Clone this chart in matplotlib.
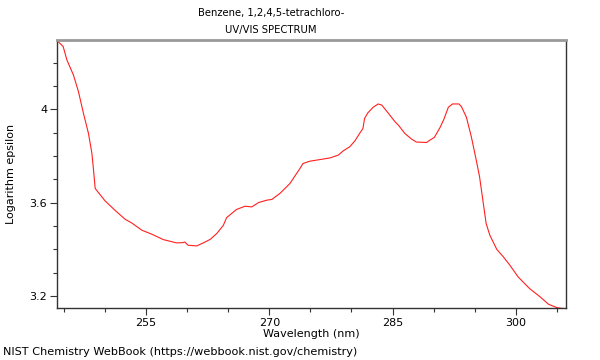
import numpy as np
import matplotlib
matplotlib.use("Agg")
import matplotlib.pyplot as plt
from matplotlib.ticker import MultipleLocator

# spectrum (wavelength nm, log epsilon)
wavelength = [244.1, 244.9, 245.35, 246.15, 246.76, 247.37, 247.98, 248.4, 248.6, 248.8,
              250.0, 251.2, 252.45, 253.26, 254.5, 255.7, 257.1, 258.7, 259.5, 259.7,
              260.1, 261.16, 261.97, 262.8, 263.6, 264.4, 264.8, 266.0, 267.05, 267.86,
              268.7, 269.7, 270.3, 271.3, 271.7, 272.5, 273.7, 274.1, 274.95, 276.2,
              277.4, 278.4, 279.0, 279.8, 280.4, 281.0, 281.4, 281.6, 282.0, 282.65,
              283.25, 283.7, 284.5, 285.3, 285.7, 286.5, 287.3, 287.9, 289.15, 289.55,
              290.1, 290.8, 291.25, 291.8, 292.3, 293.1, 293.4, 294.0, 294.6, 295.2,
              295.6, 296.0, 296.4, 296.85, 297.7, 298.5, 299.3, 300.3, 301.7, 303.0,
              304.0, 305.0, 305.5, 306.2]
log_eps = [4.297, 4.269, 4.212, 4.147, 4.076, 3.983, 3.897, 3.811, 3.739, 3.661,
           3.608, 3.568, 3.529, 3.513, 3.482, 3.465, 3.442, 3.428, 3.429, 3.432,
           3.418, 3.415, 3.428, 3.443, 3.468, 3.503, 3.536, 3.571, 3.585, 3.582,
           3.601, 3.611, 3.614, 3.640, 3.654, 3.682, 3.745, 3.768, 3.778, 3.785,
           3.792, 3.804, 3.822, 3.840, 3.864, 3.897, 3.918, 3.961, 3.985, 4.009,
           4.023, 4.018, 3.983, 3.947, 3.933, 3.897, 3.873, 3.860, 3.858, 3.868,
           3.880, 3.923, 3.957, 4.009, 4.023, 4.023, 4.011, 3.966, 3.882, 3.782,
           3.711, 3.611, 3.511, 3.461, 3.400, 3.368, 3.332, 3.282, 3.232, 3.196,
           3.165, 3.151, 3.148, 3.146]

plt.rcParams['font.family'] = ['DejaVu Sans']
fig = plt.figure(figsize=(6, 3.6), dpi=100)
ax = fig.add_axes([0.095, 0.1444, 0.848, 0.7445])

ax.plot(wavelength, log_eps, color='#ff2020', lw=0.8)
ax.set_xlim(244.15, 306.1)
ax.set_ylim(3.149, 4.297)

ax.xaxis.set_major_locator(MultipleLocator(15))
ax.xaxis.set_minor_locator(MultipleLocator(5))
ax.yaxis.set_major_locator(MultipleLocator(0.4))
ax.yaxis.set_minor_locator(MultipleLocator(0.1))
ax.set_yticks([3.2, 3.6, 4.0], ['3.2', '3.6', '4'])
ax.tick_params(which='major', length=5, width=0.8, color='#333333', labelsize=8, pad=2)
ax.tick_params(which='minor', length=3, width=0.8, color='#333333')

ax.spines['top'].set_color('#999999')
ax.spines['top'].set_linewidth(2)
for s in ['left', 'bottom', 'right']:
    ax.spines[s].set_color('#333333')
    ax.spines[s].set_linewidth(1)

ax.set_xlabel('Wavelength (nm)', fontsize=8, labelpad=1)
ax.set_ylabel('Logarithm epsilon', fontsize=8, labelpad=10)
fig.text(0.452, 0.965, 'Benzene, 1,2,4,5-tetrachloro-', ha='center', va='center',
         fontsize=8, fontstretch='condensed')
fig.text(0.452, 0.918, 'UV/VIS SPECTRUM', ha='center', va='center',
         fontsize=8, fontstretch='condensed')
fig.text(0.005, 0.022, 'NIST Chemistry WebBook (https://webbook.nist.gov/chemistry)',
         ha='left', va='center', fontsize=8.15)

fig.savefig('out.png', dpi=100)
